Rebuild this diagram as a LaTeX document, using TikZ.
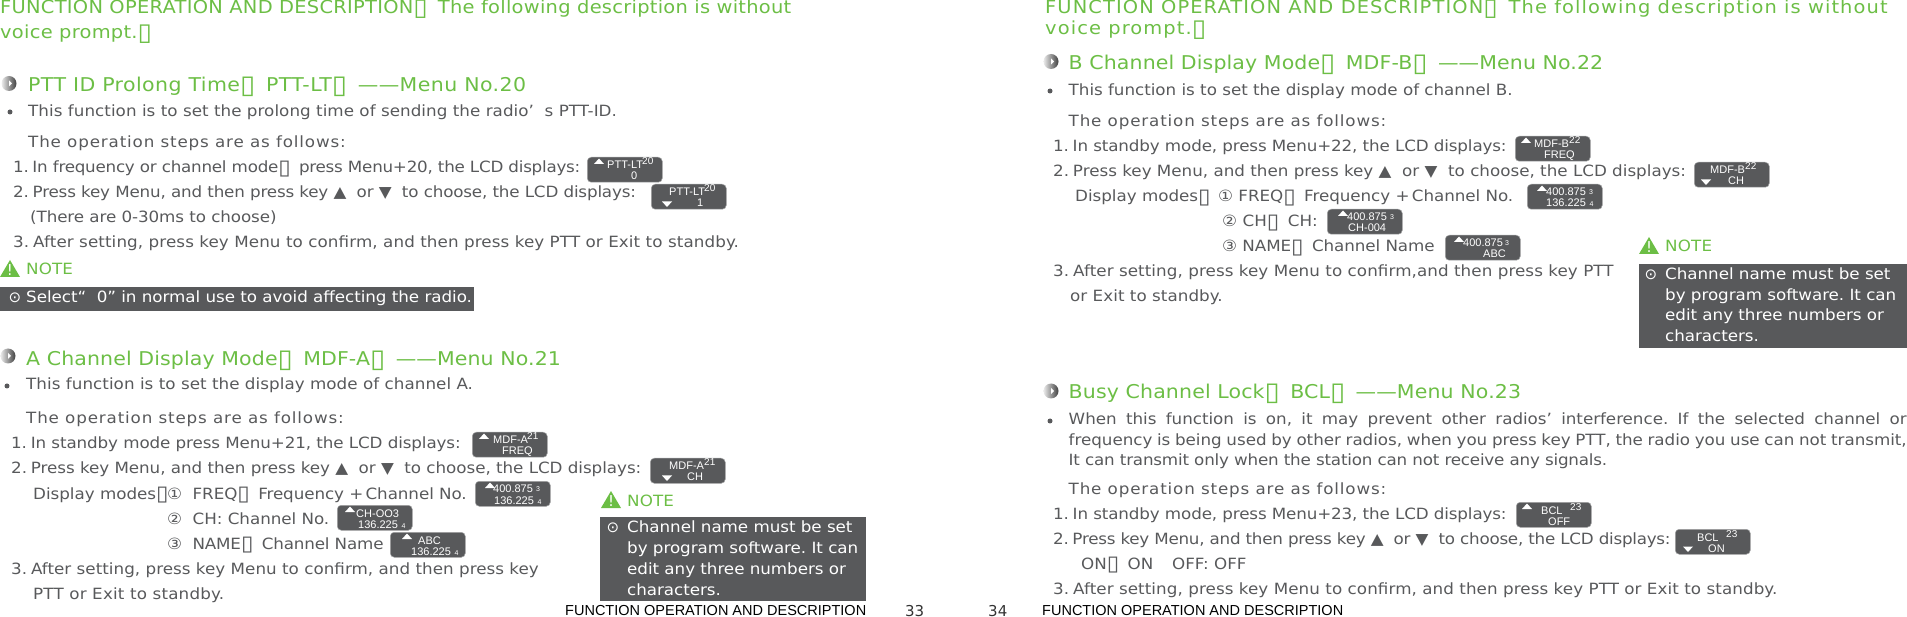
\documentclass[tikz,border=0pt]{standalone}
\usepackage{graphicx}
\usepackage{fontspec}
\setmainfont{DejaVu Sans}
\newfontfamily\chipfont{Liberation Sans}
\frenchspacing
\definecolor{textgrey}{HTML}{58595B}
\definecolor{chipgrey}{HTML}{58595B}
\definecolor{notegreen}{HTML}{6CBE45}
\newcommand{\spacedfont}[2]{\fontsize{#1}{20}\selectfont\addfontfeature{FakeStretch=1.08,LetterSpace=#2}}
\tikzset{
  headtext/.style={anchor=base west, inner sep=0pt, text=notegreen, font=\spacedfont{18}{1.5}},
  titletext/.style={anchor=base west, inner sep=0pt, text=notegreen, font=\spacedfont{19}{0.6}},
  bodytext/.style={anchor=base west, inner sep=0pt, text=textgrey, font=\spacedfont{15.5}{-0.2}},
  opstext/.style={bodytext, font=\spacedfont{15.5}{5.5}},
  notetext/.style={anchor=base west, inner sep=0pt, text=white, font=\spacedfont{15.5}{-0.3}},
  notelabel/.style={anchor=base west, inner sep=0pt, text=notegreen, font=\spacedfont{15.5}{0.8}},
  notesym/.style={anchor=center, inner sep=0pt, text=white, font=\fontsize{15}{16}\selectfont},
  notebox/.style={anchor=north west, inner sep=0pt, fill=chipgrey},
  lcdbox/.style={anchor=north west, inner sep=0pt, rounded corners=4pt, minimum width=75pt, minimum height=25pt, fill=chipgrey, draw=chipgrey!55, line width=0.5pt},
  lcdtext/.style={anchor=base west, inner sep=0pt, text=white, font=\chipfont\fontsize{11}{12}\selectfont},
  lcdindex/.style={lcdtext, font=\chipfont\fontsize{10}{12}\selectfont},
  footertext/.style={anchor=base west, inner sep=0pt, text=black, font=\chipfont\fontsize{14.5}{16}\selectfont},
  pagenum/.style={anchor=base west, inner sep=0pt, text=black!80, font=\fontsize{15}{16}\selectfont},
  dotbullet/.style={circle, inner sep=0pt, minimum size=5pt, fill=textgrey},
  menuicon/.style={circle, inner sep=0pt, minimum size=15pt, left color=black!8, right color=black!75},
}
\newcommand{\tofu}{\raisebox{-.1em}{\scalebox{1.35}{▯}}\hspace{.2em}}
\newcommand{\lcdsmall}[1]{{\fontsize{7}{7}\selectfont #1}}
\newcommand{\lcdtriup}[2]{\fill[white] ([shift={(#2-5,7)}]#1) -- ([shift={(#2+5,7)}]#1) -- ([shift={(#2,1.5)}]#1) -- cycle;}
\newcommand{\lcdtridown}[2]{\fill[white] ([shift={(#2-5,17.5)}]#1) -- ([shift={(#2+5,17.5)}]#1) -- ([shift={(#2,23)}]#1) -- cycle;}
% #1 corner, #2 triangle, #3 triangle x, #4/#5 top, #6/#7 upper index, #8/#9 bottom
\newcommand{\lcdchip}[9]{
  \node[lcdbox] (#1-box) at (#1) {};
  #2{#1}{#3}
  \node[lcdtext] (#1-top) at ([shift={(#4,12)}]#1) {#5};
  \node[lcdindex] (#1-sup) at ([shift={(#6,8)}]#1) {#7};
  \node[lcdtext] (#1-bot) at ([shift={(#8,23)}]#1) {#9};
}
\newcommand{\menumark}[3]{
  \node[menuicon] (#1) at (#2,#3) {};
  \fill[white] ([shift={(0,-3)}]#1.center) -- ([shift={(3,0)}]#1.center) -- ([shift={(0,3)}]#1.center) -- cycle;
}
\newcommand{\notesign}[3]{
  \fill[notegreen] (#2,#3+17) -- (#2+20,#3+17) -- (#2+10,#3) -- cycle;
  \node[notesym] (#1) at (#2+10,#3+10.5) {!};
}
\begin{document}
\begin{tikzpicture}[x=1pt,y=-1pt]
  \useasboundingbox (0,0) rectangle (1907,617);

  % Left page, heading
  \node[headtext] (headL1) at (0,14) {FUNCTION OPERATION AND DESCRIPTION\tofu{} The following description is without};
  \node[headtext] (headL2) at (0,39) {voice prompt.\tofu};

  % PTT ID
  \menumark{iconPtt}{9}{83.5}
  \node[titletext, font=\spacedfont{19}{2.2}] (titlePtt) at (28,92) {PTT ID Prolong Time\tofu{} PTT-LT\tofu{} ——Menu No.20};
  \node[dotbullet] (dotPtt) at (10,112) {};
  \node[bodytext, font=\spacedfont{15.5}{0.3}] (introPtt) at (28,117) {This function is to set the prolong time of sending the radio’\ \ s PTT-ID.};
  \node[opstext] (opsPtt) at (28,148) {The operation steps are as follows:};
  \node[bodytext, font=\spacedfont{15.5}{-1.6}] (stepPtt1) at (13,173) {1.\kern-1.5pt{} In frequency or channel mode\tofu{} press Menu+20, the LCD displays:};
  \node[bodytext, font=\spacedfont{15.5}{-1.1}] (stepPtt2) at (13,198) {2.\kern-1.5pt{} Press key Menu, and then press key ▲\ \ or ▼\ \ to choose, the LCD displays:};
  \node[bodytext, font=\spacedfont{15.5}{-0.6}] (stepPtt2b) at (30,223) {(There are 0-30ms to choose)};
  \node[bodytext, font=\spacedfont{15.5}{0.65}] (stepPtt3) at (13,248) {3.\kern-1.5pt{} After setting, press key Menu to confirm, and then press key PTT or Exit to standby.};
  \coordinate (lcdPttA) at (587,157);
  \lcdchip{lcdPttA}{\lcdtriup}{12}{20}{PTT-LT}{55}{20}{44}{0}
  \coordinate (lcdPttB) at (651,184);
  \lcdchip{lcdPttB}{\lcdtridown}{16}{18}{PTT-LT}{53}{20}{46}{1}
  \notesign{markPtt}{0}{260}
  \node[notelabel] (notePtt) at (26,275) {NOTE};
  \node[notebox, minimum width=474pt, minimum height=24pt] (boxPtt) at (0,287) {};
  \node[notesym] (circPtt) at (15,298) {⊙};
  \node[notetext] (textPtt) at (26,303) {Select“\ \ 0” in normal use to avoid affecting the radio.};

  % A channel
  \menumark{iconMdfA}{8}{356}
  \node[titletext] (titleMdfA) at (26,366) {A Channel Display Mode\tofu{} MDF-A\tofu{} ——Menu No.21};
  \node[dotbullet] (dotMdfA) at (7,386) {};
  \node[bodytext, font=\spacedfont{15.5}{0.3}] (introMdfA) at (26,390) {This function is to set the display mode of channel A.};
  \node[opstext] (opsMdfA) at (26,424) {The operation steps are as follows:};
  \node[bodytext, font=\spacedfont{15.5}{-0.7}] (stepMdfA1) at (11,449) {1.\kern-1.5pt{} In standby mode press Menu+21, the LCD displays:};
  \node[bodytext, font=\spacedfont{15.5}{-0.3}] (stepMdfA2) at (11,474) {2.\kern-1.5pt{} Press key Menu, and then press key ▲\ \ or ▼\ \ to choose, the LCD displays:};
  \node[bodytext] (modesMdfA) at (33,499) {Display modes\tofu};
  \node[bodytext, font=\spacedfont{15.5}{-0.5}] (modeMdfA1) at (167,499) {①\ \ FREQ\tofu{} Frequency +\kern-3pt{} Channel No.};
  \node[bodytext, font=\spacedfont{15.5}{-0.3}] (modeMdfA2) at (167,524) {②\ \ CH: Channel No.};
  \node[bodytext, font=\spacedfont{15.5}{-1}] (modeMdfA3) at (167,549) {③\ \ NAME\tofu{} Channel Name};
  \node[bodytext, font=\spacedfont{15.5}{0.2}] (stepMdfA3) at (11,574) {3.\kern-1.5pt{} After setting, press key Menu to confirm, and then press key};
  \node[bodytext, font=\spacedfont{15.5}{1.3}] (stepMdfA3b) at (33,599) {PTT or Exit to standby.};
  \coordinate (lcdMdfAa) at (472,432);
  \lcdchip{lcdMdfAa}{\lcdtriup}{12}{21}{MDF-A}{55}{21}{30}{FREQ}
  \coordinate (lcdMdfAb) at (650,458);
  \lcdchip{lcdMdfAb}{\lcdtridown}{17}{19}{MDF-A}{54}{21}{37}{CH}
  \coordinate (lcdMdfAc) at (475,481);
  \lcdchip{lcdMdfAc}{\lcdtriup}{15}{18}{400.875}{61}{\raisebox{-3pt}{\lcdsmall{3}}}{19}{136.225\,\,\lcdsmall{4}}
  \coordinate (lcdMdfAd) at (337,505);
  \lcdchip{lcdMdfAd}{\lcdtriup}{13}{19}{CH-OO3}{61}{}{21}{136.225\,\,\lcdsmall{4}}
  \coordinate (lcdMdfAe) at (390,532);
  \lcdchip{lcdMdfAe}{\lcdtriup}{17}{28}{ABC}{61}{}{21}{136.225\,\,\lcdsmall{4}}
  \notesign{markMdfA}{601}{491}
  \node[notelabel] (noteMdfA) at (627,507) {NOTE};
  \node[notebox, minimum width=266pt, minimum height=84pt] (boxMdfA) at (600,517) {};
  \node[notesym] (circMdfA) at (613,528) {⊙};
  \node[notetext] (textMdfA1) at (627,532) {Channel name must be set};
  \node[notetext] (textMdfA2) at (627,553) {by program software. It can};
  \node[notetext] (textMdfA3) at (627,574) {edit any three numbers or};
  \node[notetext] (textMdfA4) at (627,595) {characters.};

  % Footers
  \node[footertext] (footL) at (565,615) {FUNCTION OPERATION AND DESCRIPTION};
  \node[pagenum] (pageL) at (905,616) {33};
  \node[pagenum] (pageR) at (988,616) {34};
  \node[footertext] (footR) at (1042,615) {FUNCTION OPERATION AND DESCRIPTION};

  % Right page, heading
  \node[headtext, font=\spacedfont{18}{6.1}] (headR1) at (1045,14) {FUNCTION OPERATION AND DESCRIPTION\tofu{} The following description is without};
  \node[headtext, font=\spacedfont{18}{6.1}] (headR2) at (1045,35) {voice prompt.\tofu};

  % B channel
  \menumark{iconMdfB}{1051}{61.5}
  \node[titletext] (titleMdfB) at (1068.5,70) {B Channel Display Mode\tofu{} MDF-B\tofu{} ——Menu No.22};
  \node[dotbullet] (dotMdfB) at (1050,91) {};
  \node[bodytext] (introMdfB) at (1068.5,96) {This function is to set the display mode of channel B.};
  \node[opstext] (opsMdfB) at (1068.5,127) {The operation steps are as follows:};
  \node[bodytext, font=\spacedfont{15.5}{-0.9}] (stepMdfB1) at (1053,152) {1.\kern-1.5pt{} In standby mode, press Menu+22, the LCD displays:};
  \node[bodytext, font=\spacedfont{15.5}{0}] (stepMdfB2) at (1053,177) {2.\kern-1.5pt{} Press key Menu, and then press key ▲\ \ or ▼\ \ to choose, the LCD displays:};
  \node[bodytext] (modesMdfB) at (1075,202) {Display modes\tofu};
  \node[bodytext, font=\spacedfont{15.5}{-0.3}] (modeMdfB1) at (1218,202) {① FREQ\tofu{} Frequency +\kern-3pt{} Channel No.};
  \node[bodytext, font=\spacedfont{15.5}{0.3}] (modeMdfB2) at (1222,227) {② CH\tofu{} CH:};
  \node[bodytext, font=\spacedfont{15.5}{-0.5}] (modeMdfB3) at (1222,252) {③ NAME\tofu{} Channel Name};
  \node[bodytext, font=\spacedfont{15.5}{0.5}] (stepMdfB3) at (1053,277) {3.\kern-1.5pt{} After setting, press key Menu to confirm,and then press key PTT};
  \node[bodytext, font=\spacedfont{15.5}{0.3}] (stepMdfB3b) at (1070,302) {or Exit to standby.};
  \coordinate (lcdMdfBa) at (1515,136);
  \lcdchip{lcdMdfBa}{\lcdtriup}{11}{19}{MDF-B}{54}{22}{29}{FREQ}
  \coordinate (lcdMdfBb) at (1694,162);
  \lcdchip{lcdMdfBb}{\lcdtridown}{12}{16}{MDF-B}{51}{22}{34}{CH}
  \coordinate (lcdMdfBc) at (1527,184);
  \lcdchip{lcdMdfBc}{\lcdtriup}{15}{19}{400.875}{62}{\raisebox{-3pt}{\lcdsmall{3}}}{19}{136.225\,\,\lcdsmall{4}}
  \coordinate (lcdMdfBd) at (1327,209);
  \lcdchip{lcdMdfBd}{\lcdtriup}{16}{20}{400.875}{63}{\raisebox{-3pt}{\lcdsmall{3}}}{21}{CH-004}
  \coordinate (lcdMdfBe) at (1445,235);
  \lcdchip{lcdMdfBe}{\lcdtriup}{14}{18}{400.875}{60}{\raisebox{-3pt}{\lcdsmall{3}}}{38}{ABC}
  \notesign{markMdfB}{1639}{237}
  \node[notelabel] (noteMdfB) at (1665,252) {NOTE};
  \node[notebox, minimum width=268pt, minimum height=84pt] (boxMdfB) at (1639,264) {};
  \node[notesym] (circMdfB) at (1651,275) {⊙};
  \node[notetext] (textMdfB1) at (1665,280) {Channel name must be set};
  \node[notetext] (textMdfB2) at (1665,301) {by program software. It can};
  \node[notetext] (textMdfB3) at (1665,321) {edit any three numbers or};
  \node[notetext] (textMdfB4) at (1665,342) {characters.};

  % Busy channel lock
  \menumark{iconBcl}{1051}{391}
  \node[titletext, font=\spacedfont{19}{0.7}] (titleBcl) at (1068.5,399) {Busy Channel Lock\tofu{} BCL\tofu{} ——Menu No.23};
  \node[dotbullet] (dotBcl) at (1050,421) {};
  \node[bodytext] (introBcl1) at (1068.5,425) {\makebox[838pt][s]{When this function is on, it may prevent other radios’ interference. If the selected channel or}};
  \node[bodytext] (introBcl2) at (1068.5,446) {\makebox[838pt][s]{frequency is being used by other radios, when you press key PTT, the radio you use can not transmit,}};
  \node[bodytext, font=\spacedfont{15.5}{-1.3}] (introBcl3) at (1068.5,466) {It can transmit only when the station can not receive any signals.};
  \node[opstext] (opsBcl) at (1068.5,494) {The operation steps are as follows:};
  \node[bodytext, font=\spacedfont{15.5}{-0.9}] (stepBcl1) at (1053,519) {1.\kern-1.5pt{} In standby mode, press Menu+23, the LCD displays:};
  \node[bodytext, font=\spacedfont{15.5}{-1.7}] (stepBcl2) at (1053,544) {2.\kern-1.5pt{} Press key Menu, and then press key ▲\ \ or ▼\ \ to choose, the LCD displays:};
  \node[bodytext] (modeBclOn) at (1081,569) {ON\tofu{} ON};
  \node[bodytext] (modeBclOff) at (1172,569) {OFF: OFF};
  \node[bodytext, font=\spacedfont{15.5}{0.5}] (stepBcl3) at (1053,594) {3.\kern-1.5pt{} After setting, press key Menu to confirm, and then press key PTT or Exit to standby.};
  \coordinate (lcdBclA) at (1516,502);
  \lcdchip{lcdBclA}{\lcdtriup}{11}{25}{BCL}{54}{23}{32}{OFF}
  \coordinate (lcdBclB) at (1675,529);
  \lcdchip{lcdBclB}{\lcdtridown}{13}{22}{BCL}{51}{23}{33}{ON}
\end{tikzpicture}
\end{document}
